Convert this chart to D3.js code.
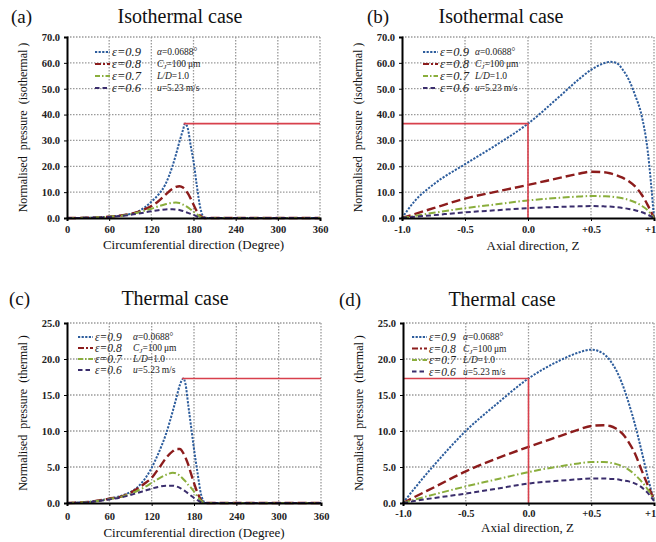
<!DOCTYPE html>
<html>
<head>
<meta charset="utf-8">
<script src="https://cdn.jsdelivr.net/npm/d3@7"></script>
<style>
  body { margin: 0; background: #fff; }
  text { font-family: "Liberation Serif", "Times New Roman", serif; }
</style>
</head>
<body>
<svg id="chart" width="656" height="542"></svg>
<script>
// circumferential direction (degree)
var degrees = [0, 30, 60, 80, 100, 110, 120, 130, 140, 150, 155, 160, 165, 168, 172, 176, 180, 185, 190, 195, 200, 240, 300, 360];
var degTicks = [0, 60, 120, 180, 240, 300, 360];

var isoCirc09 = [0, 0.1, 0.5, 1.1, 2.4, 4, 6.3, 9, 13, 20, 24.5, 29.5, 34, 36.5, 34.5, 28, 22, 12, 3.5, 0.3, 0, 0, 0, 0];
var isoCirc08 = [0, 0.1, 0.5, 1.1, 2.3, 3.3, 4.6, 6.5, 9, 11.3, 12, 12.3, 11.8, 11, 9.5, 7.5, 5.2, 2.5, 0.8, 0, 0, 0, 0, 0];
var isoCirc07 = [0, 0.1, 0.5, 1.0, 2.0, 2.8, 3.6, 4.5, 5.3, 5.9, 6.0, 5.8, 5.2, 4.8, 4.1, 3.3, 2.5, 1.4, 0.4, 0, 0, 0, 0, 0];
var isoCirc06 = [0, 0.1, 0.4, 0.9, 1.6, 2.1, 2.6, 3.0, 3.3, 3.4, 3.3, 3.1, 2.7, 2.4, 2.0, 1.6, 1.2, 0.6, 0.1, 0, 0, 0, 0, 0];

var thCirc09 = [0, 0.15, 0.6, 1.1, 2.2, 3.3, 4.9, 7, 9.5, 12.8, 14.6, 16.4, 17.3, 16.5, 13.5, 10.5, 7.5, 4.2, 1.2, 0.1, 0, 0, 0, 0];
var thCirc08 = [0, 0.15, 0.6, 1.0, 2.0, 2.7, 3.5, 4.8, 6.2, 7.2, 7.5, 7.5, 6.9, 6.3, 5.3, 4.0, 2.8, 1.4, 0.4, 0, 0, 0, 0, 0];
var thCirc07 = [0, 0.15, 0.55, 0.95, 1.7, 2.2, 2.8, 3.4, 3.9, 4.2, 4.1, 3.8, 3.3, 3.0, 2.5, 2.1, 1.6, 0.9, 0.3, 0, 0, 0, 0, 0];
var thCirc06 = [0, 0.12, 0.5, 0.85, 1.4, 1.7, 2.0, 2.25, 2.4, 2.4, 2.3, 2.1, 1.8, 1.6, 1.3, 1.0, 0.7, 0.4, 0.1, 0, 0, 0, 0, 0];

// axial direction Z
var zValues = [-1, -0.9, -0.75, -0.5, -0.25, 0, 0.25, 0.4, 0.5, 0.6, 0.65, 0.7, 0.75, 0.8, 0.85, 0.9, 0.95, 1];
var zTicks = [-1, -0.5, 0, 0.5, 1];
var zTickLabels = ["-1.0", "-0.5", "0.0", "+0.5", "+1.0"];

var isoAx09 = [0, 6.5, 13, 20.8, 28.3, 36.5, 47, 53.5, 57.3, 59.8, 60.4, 60, 57.5, 53.5, 47.5, 40, 26, 0];
var isoAx08 = [0, 1.5, 3.8, 7.5, 10.2, 12.8, 15.5, 17.1, 17.9, 17.7, 17.3, 16.6, 15.6, 14.2, 12.2, 9.2, 5, 0];
var isoAx07 = [0, 0.8, 2.0, 3.8, 5.3, 6.8, 7.8, 8.3, 8.5, 8.4, 8.3, 8.0, 7.6, 7.0, 6.1, 4.8, 3.0, 0];
var isoAx06 = [0, 0.45, 1.1, 2.2, 3.0, 3.8, 4.3, 4.5, 4.6, 4.5, 4.4, 4.2, 3.9, 3.5, 3.0, 2.3, 1.3, 0];

var thAx09 = [0, 2.2, 5.3, 10, 13.8, 17.3, 19.8, 20.9, 21.3, 20.7, 19.8, 18.4, 16.4, 13.8, 10.8, 7.3, 3.6, 0.3];
var thAx08 = [0, 0.9, 2.2, 4.4, 6.2, 7.8, 9.3, 10.2, 10.7, 10.8, 10.7, 10.3, 9.6, 8.4, 6.8, 4.6, 2.5, 0.5];
var thAx07 = [0, 0.5, 1.2, 2.3, 3.3, 4.3, 5.1, 5.5, 5.7, 5.7, 5.6, 5.4, 5.1, 4.6, 3.9, 3.0, 1.9, 0.5];
var thAx06 = [0, 0.3, 0.7, 1.3, 2.0, 2.7, 3.1, 3.3, 3.4, 3.4, 3.35, 3.3, 3.15, 3.0, 2.7, 2.2, 1.4, 0.3];

var isoTicks = [0, 10, 20, 30, 40, 50, 60, 70];
var thTicks = [0, 5, 10, 15, 20, 25];
var isoMarker = 36.5;
var thMarker = 17.3;

var epsLabels = ["\u03b5=0.9", "\u03b5=0.8", "\u03b5=0.7", "\u03b5=0.6"];
var styles = [
  {color: "#2c5c9c", dash: "2.2,1.4", width: 2},
  {color: "#8c1c1c", dash: "9,4", width: 2.4},
  {color: "#8aae3c", dash: "7,2.5,1.5,2.5", width: 2},
  {color: "#3a2d6c", dash: "5,3", width: 2}
];
var legendDash = ["2.2,1.4", "6,2,2,2", "5,2,1.5,2", "4.5,3"];

var svg = d3.select("#chart");

function drawPanel(p) {
  var g = svg.append("g");
  var x = d3.scaleLinear().domain(p.xDomain).range([p.left, p.right]);
  var y = d3.scaleLinear().domain(p.yDomain).range([p.bottom, p.top]);

  // grid
  g.selectAll(".gx").data(p.xTicks.slice(1)).enter().append("line")
    .attr("x1", d => x(d)).attr("x2", d => x(d))
    .attr("y1", p.top).attr("y2", p.bottom)
    .attr("stroke", "#9a9a9a").attr("stroke-width", 1.3).attr("stroke-dasharray", "1.5,1.5");
  g.selectAll(".gy").data(p.yTicks.slice(1)).enter().append("line")
    .attr("x1", p.left).attr("x2", p.right)
    .attr("y1", d => y(d)).attr("y2", d => y(d))
    .attr("stroke", "#9a9a9a").attr("stroke-width", 1.3).attr("stroke-dasharray", "1.5,1.5");

  // curves
  var line = d3.line().x(d => x(d[0])).y(d => y(d[1])).curve(d3.curveMonotoneX);
  p.series.forEach(function(s, i) {
    var pts = p.xs.map((v, j) => [v, s[j]]);
    g.append("path").datum(pts).attr("d", line)
      .attr("fill", "none")
      .attr("stroke", styles[i].color)
      .attr("stroke-width", styles[i].width)
      .attr("stroke-dasharray", styles[i].dash);
  });

  // red marker line
  var redPts;
  if (p.kind === "circ") {
    var s0 = p.series[0];
    var peakX = p.xs[s0.indexOf(d3.max(s0))];
    redPts = [[peakX - 2, p.marker], [p.xDomain[1], p.marker]];
  } else {
    redPts = [[p.xDomain[0], p.marker], [0, p.marker], [0, 0]];
  }
  g.append("path").datum(redPts)
    .attr("d", d3.line().x(d => x(d[0])).y(d => y(d[1])))
    .attr("fill", "none").attr("stroke", "#d8404c").attr("stroke-width", 1.6);

  // axes
  var xAxis = d3.axisBottom(x).tickValues(p.xTicks).tickSize(3)
    .tickFormat((d, i) => p.xLabels ? p.xLabels[i] : d);
  var ax = g.append("g").attr("transform", "translate(0," + p.bottom + ")").call(xAxis);
  ax.select(".domain").attr("stroke-width", 2);
  ax.selectAll("text").attr("dy", p.tickDy).attr("font-size", 10.5).attr("font-weight", "bold")
    .attr("fill", "#222").style("font-family", "Liberation Serif, serif");

  var yAxis = d3.axisLeft(y).tickValues(p.yTicks).tickSize(3).tickFormat(d3.format(".1f"));
  var ay = g.append("g").attr("transform", "translate(" + p.left + ",0)").call(yAxis);
  ay.select(".domain").attr("stroke-width", 2);
  ay.selectAll("text").attr("x", -7).attr("font-size", 10.5).attr("font-weight", "bold")
    .attr("fill", "#222").style("font-family", "Liberation Serif, serif");

  // axis titles
  g.append("text").attr("x", (p.left + p.right) / 2 + p.xLabelShift).attr("y", p.xLabelY)
    .attr("text-anchor", "middle").attr("font-size", 13).attr("fill", "#111").text(p.xTitle);
  g.append("text")
    .attr("transform", "translate(" + (p.left - 40) + "," + ((p.top + p.bottom) / 2) + ") rotate(-90)")
    .attr("text-anchor", "middle").attr("font-size", 12).attr("fill", "#111")
    .attr("xml:space", "preserve").text(p.yTitle);

  // panel letter and title
  g.append("text").attr("x", p.letterX).attr("y", p.titleY).attr("font-size", 19).attr("fill", "#111").text(p.letter);
  g.append("text").attr("x", p.titleX).attr("y", p.titleY).attr("text-anchor", "middle")
    .attr("font-size", 20).attr("fill", "#111").text(p.title);

  // legend
  var lg = g.append("g");
  epsLabels.forEach(function(lab, i) {
    var ly = p.legY + i * p.legStep;
    lg.append("line").attr("x1", p.legX).attr("x2", p.legX + 15).attr("y1", ly).attr("y2", ly)
      .attr("stroke", styles[i].color).attr("stroke-width", 2.2).attr("stroke-dasharray", legendDash[i]);
    lg.append("text").attr("x", p.legX + 17).attr("y", ly + 4).attr("font-size", p.legFont)
      .attr("font-style", "italic").attr("fill", "#222").text(lab);
  });
  var px = p.parX, py = p.legY + 3.3;
  var t1 = lg.append("text").attr("x", px).attr("y", py).attr("font-size", 9.5).attr("fill", "#222");
  t1.append("tspan").attr("font-style", "italic").text("\u03b1");
  t1.append("tspan").text("=0.0688\u00b0");
  var t2 = lg.append("text").attr("x", px).attr("y", py + p.legStep).attr("font-size", 9.5).attr("fill", "#222");
  t2.append("tspan").attr("font-style", "italic").text("C");
  t2.append("tspan").attr("font-style", "italic").attr("font-size", 7).attr("dy", 2).text("J");
  t2.append("tspan").attr("dy", -2).text("=100\u2009\u03bcm");
  var t3 = lg.append("text").attr("x", px).attr("y", py + 2 * p.legStep).attr("font-size", 9.5).attr("fill", "#222");
  t3.append("tspan").attr("font-style", "italic").text("L/D");
  t3.append("tspan").text("=1.0");
  var t4 = lg.append("text").attr("x", px).attr("y", py + 3 * p.legStep).attr("font-size", 9.5).attr("fill", "#222");
  t4.append("tspan").attr("font-style", "italic").text("u");
  t4.append("tspan").text("=5.23\u2009m/s");
}

drawPanel({
  kind: "circ", left: 67, right: 320, top: 37, bottom: 218,
  xDomain: [0, 360], yDomain: [0, 70], xs: degrees, xTicks: degTicks, yTicks: isoTicks,
  series: [isoCirc09, isoCirc08, isoCirc07, isoCirc06], marker: isoMarker,
  xTitle: "Circumferential direction (Degree)", xLabelY: 249, xLabelShift: 0, tickDy: "0.9em",
  yTitle: "Normalised  pressure  (isothermal )",
  letter: "(a)", letterX: 11, title: "Isothermal case", titleX: 180, titleY: 23,
  legX: 95, legY: 52, legStep: 12, parX: 157, legFont: 12.5
});
drawPanel({
  kind: "ax", left: 402, right: 654, top: 37, bottom: 218,
  xDomain: [-1, 1], yDomain: [0, 70], xs: zValues, xTicks: zTicks, xLabels: zTickLabels, yTicks: isoTicks,
  series: [isoAx09, isoAx08, isoAx07, isoAx06], marker: isoMarker,
  xTitle: "Axial direction, Z", xLabelY: 250, xLabelShift: 5, tickDy: "0.9em",
  yTitle: "Normalised  pressure  (isothermal )",
  letter: "(b)", letterX: 367, title: "Isothermal case", titleX: 501, titleY: 23,
  legX: 423, legY: 52, legStep: 12, parX: 475, legFont: 12.5
});
drawPanel({
  kind: "circ", left: 67, right: 321, top: 323, bottom: 503,
  xDomain: [0, 360], yDomain: [0, 25], xs: degrees, xTicks: degTicks, yTicks: thTicks,
  series: [thCirc09, thCirc08, thCirc07, thCirc06], marker: thMarker,
  xTitle: "Circumferential direction (Degree)", xLabelY: 537, xLabelShift: 0, tickDy: "1em",
  yTitle: "Normalised  pressure  (thermal )",
  letter: "(c)", letterX: 9, title: "Thermal case", titleX: 175, titleY: 305,
  legX: 78, legY: 337, legStep: 11, parX: 133, legFont: 11.5
});
drawPanel({
  kind: "ax", left: 403, right: 654, top: 323, bottom: 503,
  xDomain: [-1, 1], yDomain: [0, 25], xs: zValues, xTicks: zTicks, xLabels: zTickLabels, yTicks: thTicks,
  series: [thAx09, thAx08, thAx07, thAx06], marker: thMarker,
  xTitle: "Axial direction, Z", xLabelY: 532, xLabelShift: -1, tickDy: "0.8em",
  yTitle: "Normalised  pressure  (thermal )",
  letter: "(d)", letterX: 339, title: "Thermal case", titleX: 502, titleY: 306,
  legX: 412, legY: 337, legStep: 11.5, parX: 463, legFont: 11.5
});
</script>
</body>
</html>
